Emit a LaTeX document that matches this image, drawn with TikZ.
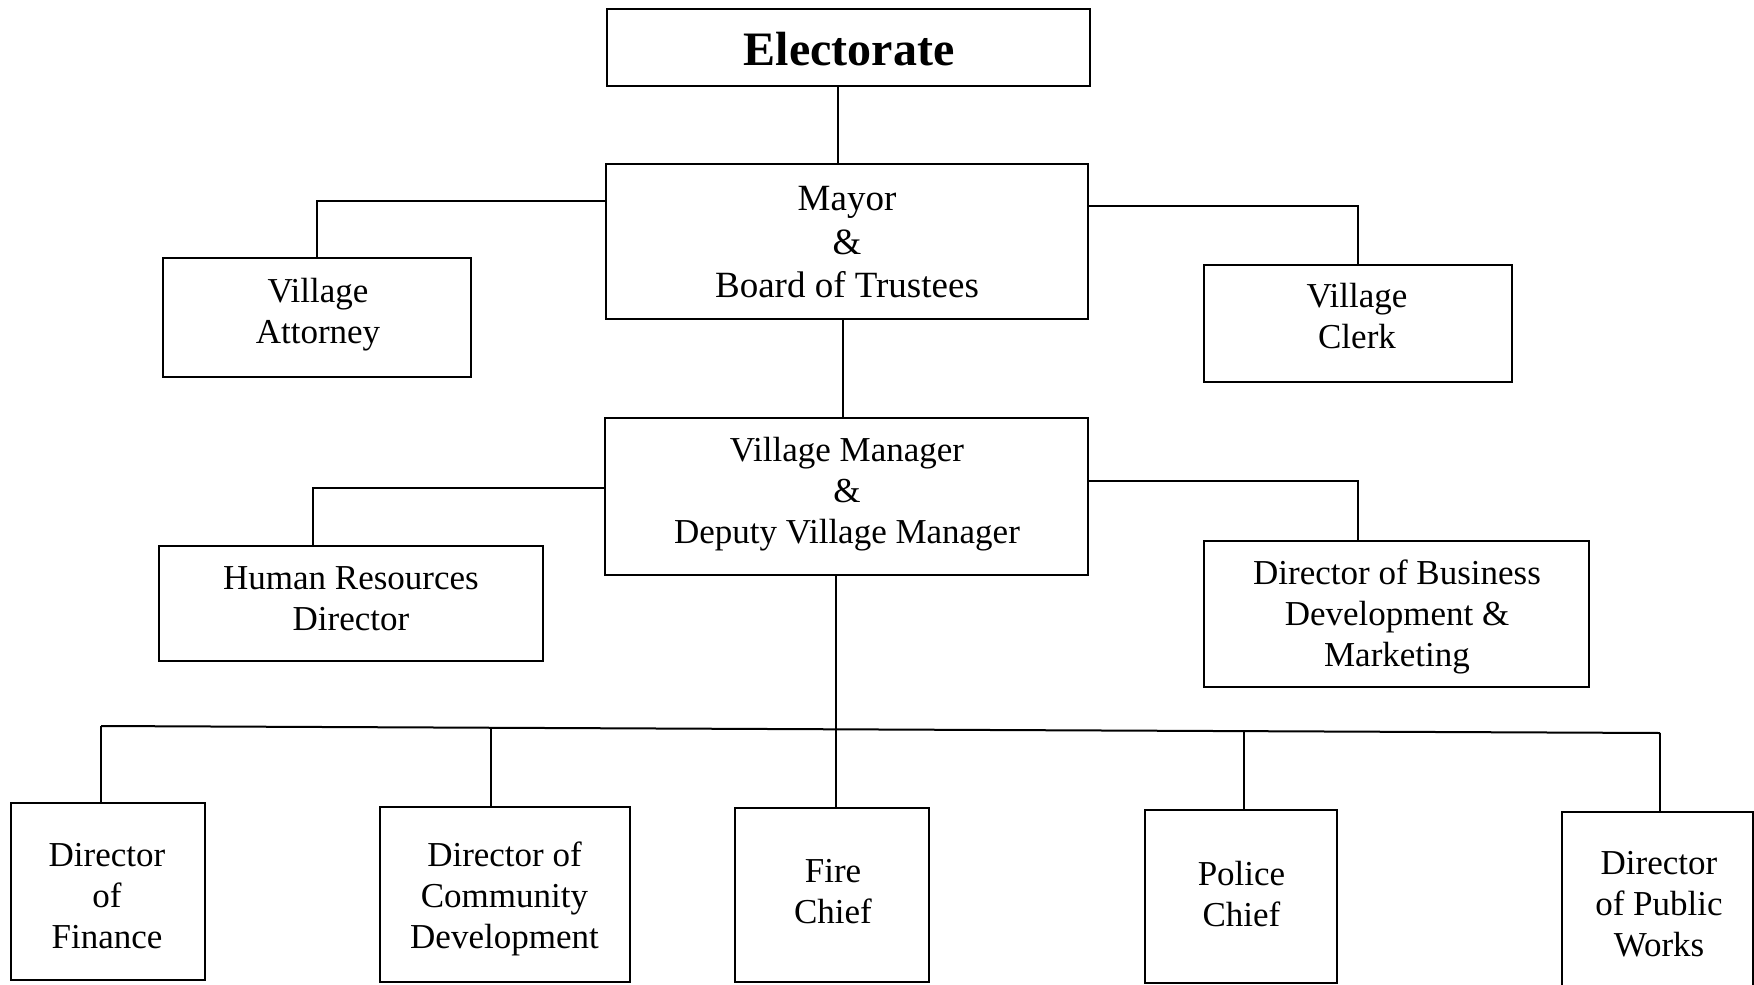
\documentclass[tikz,border=0pt]{standalone}
\usepackage{fontspec}
\setmainfont{Liberation Serif}
\begin{document}
\begin{tikzpicture}[x=1pt,y=-1pt,
  box/.style={draw, line width=2.4pt, rectangle, inner sep=0pt, outer sep=0pt},
  lbl/.style={align=center, inner sep=0pt, font=\fontsize{35}{41}\selectfont},
  link/.style={line width=2pt}]
\useasboundingbox (0,0) rectangle (1754,985);
\clip (0,0) rectangle (1754,985);
\fill[white] (0,0) rectangle (1754,985);

% boxes
\node[box, minimum width=483pt, minimum height=77pt]  (elect)  at (848.5,47.5) {};
\node[box, minimum width=482pt, minimum height=155pt] (mayor)  at (847,241.5) {};
\node[box, minimum width=308pt, minimum height=119pt] (atty)   at (317,317.5) {};
\node[box, minimum width=308pt, minimum height=117pt] (clerk)  at (1358,323.5) {};
\node[box, minimum width=483pt, minimum height=157pt] (mgr)    at (846.5,496.5) {};
\node[box, minimum width=384pt, minimum height=115pt] (hr)     at (351,603.5) {};
\node[box, minimum width=385pt, minimum height=146pt] (biz)    at (1396.5,614) {};
\node[box, minimum width=194pt, minimum height=177pt] (fin)    at (108,891.5) {};
\node[box, minimum width=250pt, minimum height=175pt] (comm)   at (505,894.5) {};
\node[box, minimum width=193.5pt, minimum height=174pt] (fire) at (832,895) {};
\node[box, minimum width=191.5pt, minimum height=173pt] (police) at (1241,896.5) {};
\node[box, minimum width=191pt, minimum height=188pt] (pw)     at (1657.5,906) {};

% labels
\node[lbl, font=\fontsize{48}{56}\selectfont\bfseries] (elect-t) at (849,49) {Electorate};
\node[lbl, font=\fontsize{37}{43.5}\selectfont] (mayor-t) at (847,242.5) {Mayor\\\&\\Board of Trustees};
\node[lbl] (atty-t)   at (318,315)    {Village\\Attorney};
\node[lbl] (clerk-t)  at (1357,316.5) {Village\\Clerk};
\node[lbl] (mgr-t)    at (847,494)    {Village Manager\\\&\\Deputy Village Manager};
\node[lbl] (hr-t)     at (351,598.5)  {Human Resources\\Director};
\node[lbl] (biz-t)    at (1397,617)   {Director of Business\\Development \&\\Marketing};
\node[lbl] (fin-t)    at (107,896)    {Director\\of\\Finance};
\node[lbl] (comm-t)   at (504.5,899)  {Director of\\Community\\Development};
\node[lbl] (fire-t)   at (833,892)    {Fire\\Chief};
\node[lbl] (police-t) at (1241.5,894) {Police\\Chief};
\node[lbl] (pw-t)     at (1659,904.5) {Director\\of Public\\Works};

% upper connectors
\draw[link] ([xshift=-10.5pt]elect.south) -- ([xshift=-10.5pt]elect.south |- mayor.north);
\draw[link] ([yshift=-37pt]mayor.north west) -| (atty.north);
\draw[link] ([yshift=-42pt]mayor.north east) -| (clerk.north);
\draw[link] ([xshift=-4pt]mayor.south) -- ([xshift=-4pt]mayor.south |- mgr.north);
\draw[link] ([yshift=-70pt]mgr.north west) -| ([xshift=-38pt]hr.north);
\draw[link] ([yshift=-63pt]mgr.north east) -| ([xshift=-38.5pt]biz.north);

% department bus
\coordinate (b1) at (101,726);
\coordinate (b2) at (491,727.8);
\coordinate (b3) at (836,729.3);
\coordinate (b4) at (1244,731.1);
\coordinate (b5) at (1660,733);
\draw[link] (mgr.south -| b3) -- (b3);
\draw[link] (b1) -- (b5);
\draw[link] (b1) -- (b1 |- fin.north);
\draw[link] (b2) -- (b2 |- comm.north);
\draw[link] (b3) -- (b3 |- fire.north);
\draw[link] (b4) -- (b4 |- police.north);
\draw[link] (b5) -- (b5 |- pw.north);
\end{tikzpicture}
\end{document}
